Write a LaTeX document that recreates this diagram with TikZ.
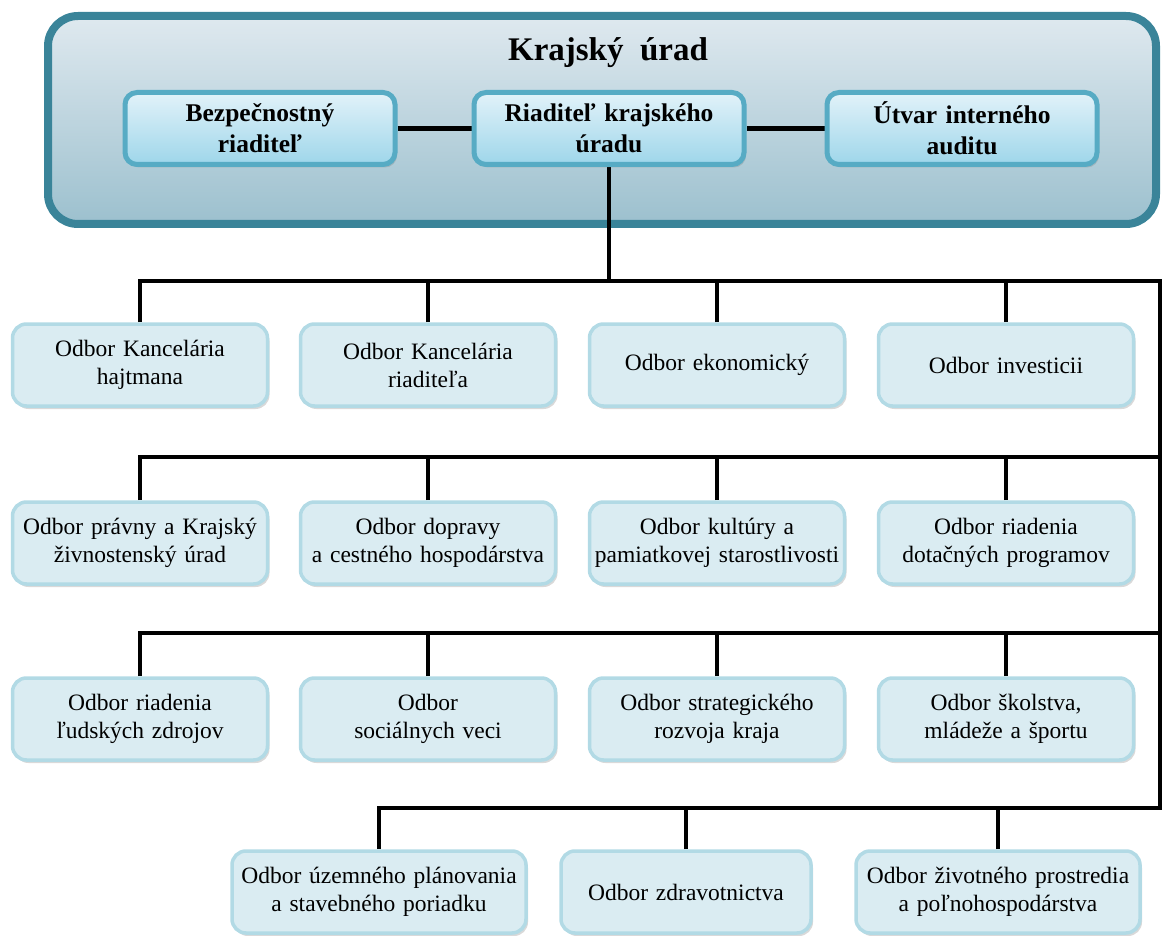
\documentclass[tikz,border=0pt]{standalone}
\usepackage{fontspec}
\setmainfont{Liberation Serif}
\usetikzlibrary{shadows}
\definecolor{bigborder}{HTML}{3A8499}
\definecolor{bigtop}{HTML}{DFE9EF}
\definecolor{bigbot}{HTML}{9CC0CE}
\definecolor{topborder}{HTML}{57ABC4}
\definecolor{toptop}{HTML}{E2F2F9}
\definecolor{topbot}{HTML}{9ED6EA}
\definecolor{deptborder}{HTML}{B2DAE5}
\definecolor{deptfill}{HTML}{DAECF2}
\pgfdeclarelayer{back}
\pgfdeclarelayer{background}
\pgfsetlayers{back,background,main}
\begin{document}
\begin{tikzpicture}[x=1pt,y=-1pt,
  bigbox/.style={draw=bigborder, line width=8pt, top color=bigtop, bottom color=bigbot,
    rounded corners=30pt, minimum width=1108pt, minimum height=208pt, inner sep=0pt,
    drop shadow={shadow xshift=2pt, shadow yshift=-3pt, opacity=0.3}},
  topbox/.style={draw=topborder, line width=5pt, top color=toptop, bottom color=topbot,
    rounded corners=12pt, minimum width=270pt, minimum height=72pt, inner sep=0pt,
    text width=262pt, align=center, font=\bfseries\fontsize{25.5}{31}\selectfont,
    drop shadow={shadow xshift=2pt, shadow yshift=-3pt, opacity=0.3}},
  dept/.style={draw=deptborder, line width=3.5pt, fill=deptfill,
    rounded corners=14pt, minimum width=255pt, minimum height=82pt, inner sep=0pt,
    text width=250pt, align=center, font=\fontsize{23.5}{28}\selectfont,
    drop shadow={shadow xshift=2pt, shadow yshift=-3pt, opacity=0.3}},
  conn/.style={draw=black, line width=4.8pt}
]
\useasboundingbox (0,0) rectangle (1165,936);

% top container
\begin{pgfonlayer}{back}
\node[bigbox] (kraj) at (602,120) {};
\end{pgfonlayer}
\node[font=\bfseries\fontsize{33}{38}\selectfont] (title) at (608,53) {Krajský\ \ úrad};

\node[topbox] (bez) at (260,128.5) {Bezpečnostný\\riaditeľ};
\node[topbox] (dir) at (609,128.5) {Riaditeľ krajského\\úradu};
\node[topbox] (utv) at (962,128.5) {Útvar interného\\auditu};

% row 1
\node[dept] (r1a) at (140,365) {Odbor Kancelária\\hajtmana};
\node[dept] (r1b) at (428,365) {Odbor Kancelária\\riaditeľa};
\node[dept] (r1c) at (717,365) {Odbor ekonomický};
\node[dept] (r1d) at (1006,365) {Odbor investicii};
% row 2
\node[dept] (r2a) at (140,543) {Odbor právny a Krajský\\živnostenský úrad};
\node[dept] (r2b) at (428,543) {Odbor dopravy\\a cestného hospodárstva};
\node[dept] (r2c) at (717,543) {Odbor kultúry a\\pamiatkovej starostlivosti};
\node[dept] (r2d) at (1006,543) {Odbor riadenia\\dotačných programov};
% row 3
\node[dept] (r3a) at (140,719) {Odbor riadenia\\ľudských zdrojov};
\node[dept] (r3b) at (428,719) {Odbor\\sociálnych veci};
\node[dept] (r3c) at (717,719) {Odbor strategického\\rozvoja kraja};
\node[dept] (r3d) at (1006,719) {Odbor školstva,\\mládeže a športu};
% row 4
\node[dept, minimum width=294pt, text width=290pt] (r4a) at (379,892) {Odbor územného plánovania\\a stavebného poriadku};
\node[dept, minimum width=248pt] (r4b) at (686,892) {Odbor zdravotnictva};
\node[dept, minimum width=284pt, text width=280pt] (r4c) at (998,892) {Odbor životného prostredia\\a poľnohospodárstva};

\coordinate (b1) at (1160,281);
\coordinate (b2) at (1160,457);
\coordinate (b3) at (1160,633);
\coordinate (b4) at (1160,808);
\coordinate (j0) at (609,281);

\begin{pgfonlayer}{background}
\draw[conn] (bez.east) -- (dir.west);
\draw[conn] (dir.east) -- (utv.west);
\draw[conn] (dir.south) -- (j0);
\draw[conn] (r1a.north) |- (b1) -- (b4) -| (r4a.north);
\draw[conn] (r2a.north) |- (b2);
\draw[conn] (r3a.north) |- (b3);
\draw[conn] (r1b.north) -- (r1b.north |- b1);
\draw[conn] (r1c.north) -- (r1c.north |- b1);
\draw[conn] (r1d.north) -- (r1d.north |- b1);
\draw[conn] (r2b.north) -- (r2b.north |- b2);
\draw[conn] (r2c.north) -- (r2c.north |- b2);
\draw[conn] (r2d.north) -- (r2d.north |- b2);
\draw[conn] (r3b.north) -- (r3b.north |- b3);
\draw[conn] (r3c.north) -- (r3c.north |- b3);
\draw[conn] (r3d.north) -- (r3d.north |- b3);
\draw[conn] (r4b.north) -- (r4b.north |- b4);
\draw[conn] (r4c.north) -- (r4c.north |- b4);
\end{pgfonlayer}
\end{tikzpicture}
\end{document}
